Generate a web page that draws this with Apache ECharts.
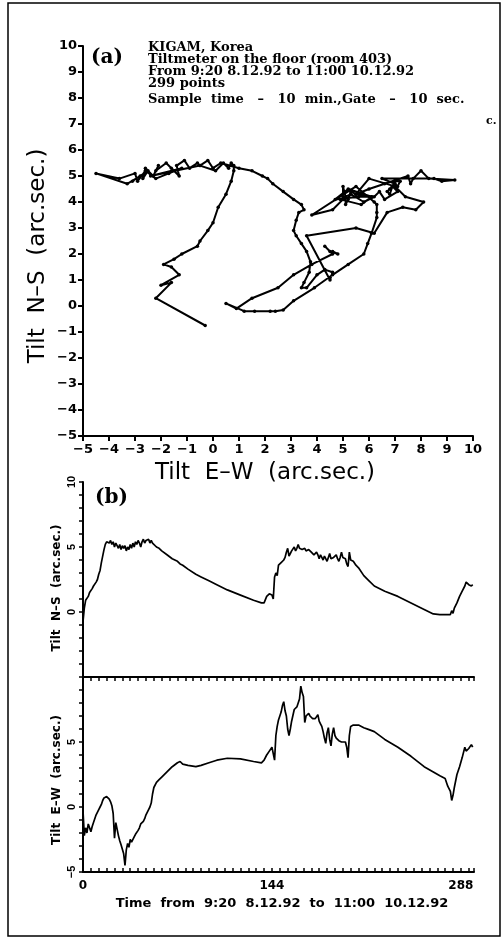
<!DOCTYPE html>
<html>
<head>
<meta charset="utf-8">
<script src="https://cdn.jsdelivr.net/npm/echarts@6/dist/echarts.min.js"></script>
<style>
html,body{margin:0;padding:0;background:#fff;}
#chart{width:504px;height:939px;}
</style>
</head>
<body>
<div id="chart"></div>
<script>
// Sample index (10-min samples) at which values were read
const timeIdx = [0,1,2,3,4,5,6,7,8,10,11,12,13,14,15,16,17,18,19,20,21,22,23,24,25,26,27,28,29,30,31,32,33,34,35,36,37,38,39,40,41,42,43,44,45,46,47,48,49,50,51,52,53,54,56,58,60,64,68,72,74,76,80,86,90,96,102,110,120,130,136,138,140,142,144,145,146,147,148,149,151,152,153,154,155,156,157,158,159,161,162,163,164,165,166,167,168,169,170,171,172,173,174,175,176,177,178,179,180,181,182,183,184,185,186,187,188,189,190,191,192,193,194,195,196,197,198,200,201,202,203,204,206,208,210,214,218,222,230,240,250,260,267,272,276,278,280,281,282,283,285,287,289,291,292,294,296,297];
// Tilt N-S (arc.sec.)
const tiltNS = [-0.75,0.3,0.9,0.8,1.2,1.5,1.6,1.8,2.0,2.3,2.5,2.9,3.2,3.8,4.3,4.8,5.2,5.4,5.5,5.3,5.5,5.2,5.4,5.0,5.3,5.1,4.9,5.2,4.8,5.1,4.9,5.1,4.7,5.0,4.8,5.2,4.9,5.3,5.0,5.4,5.2,5.5,5.3,5.0,5.4,5.6,5.3,5.5,5.4,5.6,5.3,5.5,5.3,5.2,5.0,4.9,4.7,4.4,4.1,3.9,3.7,3.6,3.3,2.9,2.7,2.4,2.1,1.7,1.3,0.9,0.7,0.7,1.2,1.4,1.3,1.0,2.7,3.0,2.8,3.6,3.8,3.7,4.0,4.2,4.6,4.9,4.3,4.5,4.7,5.0,4.7,4.9,5.2,4.9,4.85,4.8,4.9,4.9,4.7,4.6,4.8,4.8,4.6,4.5,4.4,4.3,4.6,4.4,4.1,4.4,4.2,4.0,4.3,4.1,3.9,4.2,4.5,4.1,4.2,4.2,4.3,4.4,4.1,3.9,4.2,4.6,4.2,4.1,3.7,3.5,4.6,4.0,3.9,3.6,3.4,2.8,2.4,2.0,1.6,1.2,0.7,0.2,-0.15,-0.2,-0.2,-0.2,-0.2,0.1,-0.1,0.3,0.7,1.2,1.6,2.0,2.3,2.1,2.0,2.1];
// Tilt E-W (arc.sec.)
const tiltEW = [-0.3,-2.2,-1.6,-2.0,-1.3,-1.6,-1.9,-1.5,-1.2,-0.6,-0.5,-0.2,0.0,0.2,0.5,0.7,0.8,0.8,0.7,0.6,0.4,0.1,-0.5,-2.4,-1.2,-1.7,-2.2,-2.6,-2.9,-3.0,-3.6,-4.5,-3.3,-2.8,-3.1,-2.5,-2.7,-2.6,-2.3,-2.1,-2.2,-1.8,-1.6,-1.3,-1.4,-1.1,-0.9,-0.6,-0.5,-0.2,0.0,0.3,1.0,1.5,1.9,2.1,2.3,2.7,3.1,3.4,3.5,3.3,3.2,3.1,3.2,3.4,3.6,3.75,3.7,3.5,3.4,3.6,4.0,4.3,4.6,4.5,3.6,5.5,6.2,6.7,7.3,7.8,8.1,7.4,7.0,6.0,5.5,6.0,6.6,7.5,7.6,7.7,8.0,8.3,9.3,8.8,8.5,6.5,7.0,7.1,7.2,7.0,6.9,6.8,6.7,6.8,6.9,7.1,6.6,6.4,6.2,5.8,5.3,4.9,5.7,6.1,5.2,4.7,5.6,6.1,5.5,5.3,5.2,5.1,5.1,5.0,5.0,5.0,4.6,3.8,5.5,6.2,6.3,6.3,6.3,6.1,5.95,5.8,5.2,4.6,3.9,3.1,2.7,2.4,2.2,1.6,1.2,0.5,0.9,1.5,2.5,3.1,3.8,4.6,4.3,4.5,4.8,4.6];

const timeTickLabels = [0, 144, 288];
const nsTickLabels = [0, 5, 10];
const ewTickLabels = [-5, 0, 5];
const headerLines = [
  'KIGAM, Korea',
  'Tiltmeter on the floor (room 403)',
  'From 9:20 8.12.92 to 11:00 10.12.92',
  '299 points',
  'Sample  time   \u2013   10  min.,Gate   \u2013   10  sec.'
];

const BLACK = '#000';
const SANS = 'DejaVu Sans';
const SANS2 = 'Liberation Sans';
const SERIF = 'DejaVu Serif';

const hodo = tiltEW.map((v, i) => [v, tiltNS[i]]);
const nsSeries = timeIdx.map((t, i) => [t, tiltNS[i]]);
const ewSeries = timeIdx.map((t, i) => [t, tiltEW[i]]);

const axisLine = { show: true, onZero: false, lineStyle: { color: BLACK, width: 2 } };

function bAxisY(idx, labels) {
  return {
    type: 'value', gridIndex: idx, min: -5, max: 10, interval: 1,
    axisLine: axisLine,
    axisTick: { show: true, inside: false, length: 4, lineStyle: { color: BLACK, width: 1.5 } },
    splitLine: { show: false },
    axisLabel: {
      rotate: 90, margin: 6, color: BLACK, fontFamily: SANS2, fontWeight: 'bold', fontSize: 11,
      showMinLabel: true, showMaxLabel: true,
      formatter: v => labels.includes(v) ? String(v).replace('-', '\u2212') : ''
    }
  };
}

const chart = echarts.init(document.getElementById('chart'), null, { renderer: 'canvas' });

const headerGraphics = headerLines.map((s, i) => ({
  type: 'text', left: 148, top: [41, 53, 65, 77, 93][i],
  style: { text: s, fill: BLACK, font: 'bold 13px "' + SERIF + '"' }
}));

chart.setOption({
  backgroundColor: '#fff',
  animation: false,
  grid: [
    { left: 83, top: 46, width: 390, height: 390 },
    { left: 83, top: 482, width: 391, height: 195 },
    { left: 83, top: 677, width: 391, height: 195 }
  ],
  xAxis: [
    {
      type: 'value', gridIndex: 0, min: -5, max: 10, interval: 1,
      axisLine: axisLine,
      axisTick: { show: true, inside: false, length: 5, lineStyle: { color: BLACK, width: 2 } },
      splitLine: { show: false },
      axisLabel: { margin: 7, color: BLACK, fontFamily: SANS, fontWeight: 'bold', fontSize: 13,
        showMinLabel: true, showMaxLabel: true, hideOverlap: false,
        formatter: v => String(v).replace('-', '\u2212') }
    },
    {
      type: 'value', gridIndex: 1, min: 0, max: 298, interval: 6,
      axisLine: axisLine,
      axisTick: { show: true, inside: false, length: 4, lineStyle: { color: BLACK, width: 1.5 } },
      splitLine: { show: false },
      axisLabel: { show: false }
    },
    {
      type: 'value', gridIndex: 2, min: 0, max: 298, interval: 6,
      axisLine: axisLine,
      axisTick: { show: true, inside: true, length: 4, lineStyle: { color: BLACK, width: 1.5 } },
      splitLine: { show: false },
      axisLabel: { margin: 8, color: BLACK, fontFamily: SANS, fontWeight: 'bold', fontSize: 12,
        showMinLabel: true, showMaxLabel: true,
        formatter: v => timeTickLabels.includes(v) ? String(v) : '' }
    }
  ],
  yAxis: [
    {
      type: 'value', gridIndex: 0, min: -5, max: 10, interval: 1,
      axisLine: axisLine,
      axisTick: { show: true, inside: false, length: 5, lineStyle: { color: BLACK, width: 2 } },
      splitLine: { show: false },
      axisLabel: { margin: 6, color: BLACK, fontFamily: SANS, fontWeight: 'bold', fontSize: 13,
        showMinLabel: true, showMaxLabel: true,
        formatter: v => String(v).replace('-', '\u2212') }
    },
    bAxisY(1, nsTickLabels),
    bAxisY(2, ewTickLabels)
  ],
  series: [
    {
      type: 'line', xAxisIndex: 0, yAxisIndex: 0, data: hodo,
      symbol: 'circle', symbolSize: 3.5, showSymbol: true,
      lineStyle: { color: BLACK, width: 2 }, itemStyle: { color: BLACK },
      silent: true
    },
    {
      type: 'line', xAxisIndex: 1, yAxisIndex: 1, data: nsSeries,
      showSymbol: false, lineStyle: { color: BLACK, width: 1.7 }, silent: true
    },
    {
      type: 'line', xAxisIndex: 2, yAxisIndex: 2, data: ewSeries,
      showSymbol: false, lineStyle: { color: BLACK, width: 1.7 }, silent: true
    }
  ],
  graphic: [
    { type: 'rect', shape: { x: 8, y: 3, width: 492, height: 933 },
      style: { fill: 'none', stroke: BLACK, lineWidth: 1.5 }, silent: true },
    { type: 'text', left: 91, top: 48, style: { text: '(a)', fill: BLACK, font: 'bold 20px "' + SERIF + '"' } },
    ...headerGraphics,
    { type: 'text', left: 486, top: 116, style: { text: 'c.', fill: BLACK, font: 'bold 11px "' + SERIF + '"' } },
    { type: 'text', x: 265, y: 473,
      style: { text: 'Tilt  E\u2013W  (arc.sec.)', fill: BLACK, font: '23px "' + SANS + '"', textAlign: 'center', textVerticalAlign: 'middle' } },
    { type: 'text', x: 38, y: 256, rotation: Math.PI / 2,
      style: { text: 'Tilt  N\u2013S  (arc.sec.)', fill: BLACK, font: '23px "' + SANS + '"', textAlign: 'center', textVerticalAlign: 'middle' } },
    { type: 'text', left: 95, top: 488, style: { text: '(b)', fill: BLACK, font: 'bold 20px "' + SERIF + '"' } },
    { type: 'text', x: 57, y: 588, rotation: Math.PI / 2,
      style: { text: 'Tilt  N\u2013S  (arc.sec.)', fill: BLACK, font: 'bold 12px "' + SANS + '"', textAlign: 'center', textVerticalAlign: 'middle' } },
    { type: 'text', x: 57, y: 780, rotation: Math.PI / 2,
      style: { text: 'Tilt  E\u2013W  (arc.sec.)', fill: BLACK, font: 'bold 12px "' + SANS + '"', textAlign: 'center', textVerticalAlign: 'middle' } },
    { type: 'text', x: 282, y: 904,
      style: { text: 'Time  from  9:20  8.12.92  to  11:00  10.12.92', fill: BLACK, font: 'bold 13px "' + SANS + '"', textAlign: 'center', textVerticalAlign: 'middle' } }
  ]
});
</script>
</body>
</html>
